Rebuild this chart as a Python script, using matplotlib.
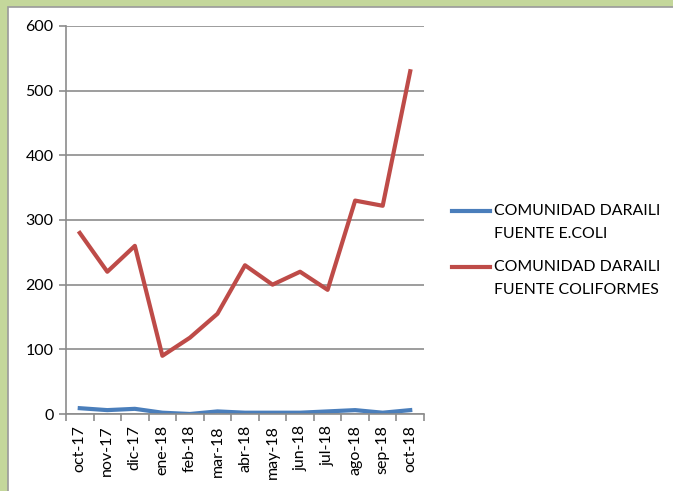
import numpy as np
import matplotlib
matplotlib.use("Agg")
import matplotlib.pyplot as plt
from matplotlib.patches import Rectangle
from matplotlib.lines import Line2D

plt.rcParams['font.family'] = ['Lato', 'DejaVu Sans']

# datos
meses = ['oct-17', 'nov-17', 'dic-17', 'ene-18', 'feb-18', 'mar-18', 'abr-18',
         'may-18', 'jun-18', 'jul-18', 'ago-18', 'sep-18', 'oct-18']
ecoli = [9, 6, 8, 2, 0, 4, 2, 2, 2, 4, 6, 2, 6]
coliformes = [280, 220, 260, 90, 118, 155, 230, 200, 220, 192, 330, 322, 530]

etiquetas = ['COMUNIDAD DARAILI\nFUENTE E.COLI',
             'COMUNIDAD DARAILI\nFUENTE COLIFORMES']
colores = ['#4A7EBB', '#BE4B48']

W, H = 673, 491
fig = plt.figure(figsize=(W / 100, H / 100), dpi=100, facecolor='#C4D79B')
# marco blanco del grafico
fig.patches.append(Rectangle((7.5 / W, -0.01), 1.0, 1 - 6.5 / H + 0.01,
                             transform=fig.transFigure, facecolor='white',
                             edgecolor='#9A9A9A', linewidth=1.2, zorder=-5))

ax = fig.add_axes([66 / W, 1 - 414 / H, (424 - 66) / W, (414 - 26) / H])
ax.set_facecolor('none')

x = np.arange(len(meses))
ax.plot(x, ecoli, color=colores[0], lw=3, solid_joinstyle='round')
ax.plot(x, coliformes, color=colores[1], lw=3, solid_joinstyle='round')

ax.set_xlim(-0.5, len(meses) - 0.5)
ax.set_ylim(0, 600)
ax.set_yticks(range(0, 601, 100))
ax.grid(axis='y', color='#8C8C8C', lw=1.2)
ax.set_axisbelow(True)

ax.set_xticks(x)
ax.set_xticklabels(meses, rotation=90, fontsize=11.5)
ax.set_xticks(np.arange(-0.5, len(meses)), minor=True)
ax.tick_params(axis='x', which='major', length=0, pad=8)
ax.tick_params(axis='x', which='minor', length=5, color='#8C8C8C', width=1.2)
ax.tick_params(axis='y', length=5, color='#8C8C8C', width=1.2, labelsize=11.5, pad=4)

for s in ['top', 'right']:
    ax.spines[s].set_visible(False)
for s in ['left', 'bottom']:
    ax.spines[s].set_color('#8C8C8C')
    ax.spines[s].set_linewidth(1.2)

# leyenda a mano: la linea queda a la altura del primer renglon
for i, (lab, col) in enumerate(zip(etiquetas, colores)):
    y0 = 211 + i * 56
    fig.add_artist(Line2D([452 / W, 490 / W], [1 - y0 / H, 1 - y0 / H],
                          transform=fig.transFigure, color=col, lw=3))
    for j, linea in enumerate(lab.split('\n')):
        fig.text(494 / W, 1 - (y0 + j * 23) / H, linea, fontsize=11.4,
                 va='center', ha='left')

fig.savefig('out.png', dpi=100, facecolor=fig.get_facecolor())
